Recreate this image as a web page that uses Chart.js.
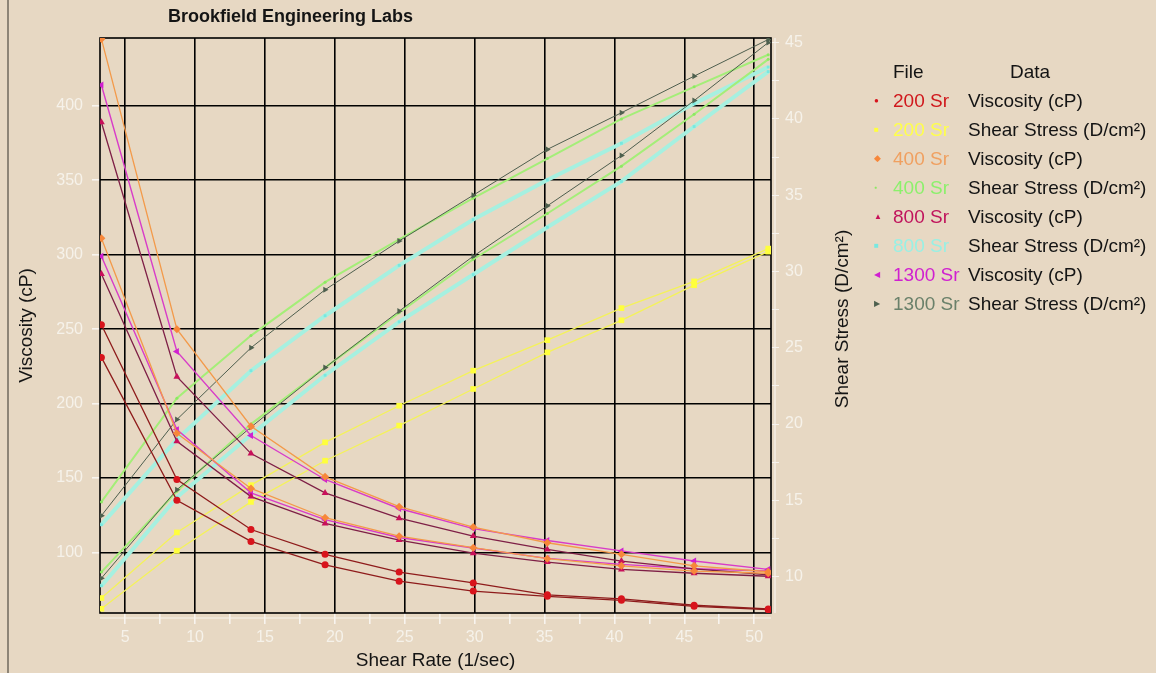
<!DOCTYPE html>
<html>
<head>
<meta charset="utf-8">
<title>Brookfield Engineering Labs</title>
<script src="https://cdn.jsdelivr.net/npm/chart.js@4.4.1/dist/chart.umd.min.js"></script>
<style>
  html, body { margin: 0; padding: 0; background: #e7d8c3; }
  #wrap { position: relative; width: 1156px; height: 673px; overflow: hidden; background: #e7d8c3; }
  #edge { position: absolute; left: 7px; top: 0; width: 2px; height: 673px; background: #8d8476; }
  #chart { position: absolute; left: 0; top: 0; }
  #legend { position: absolute; left: 0; top: 0; font-family: "Liberation Sans", Arial, sans-serif; font-size: 19px; color: #141414; }
  #legend span { position: absolute; white-space: nowrap; line-height: 29px; }
</style>
</head>
<body>
<div id="wrap">
  <div id="edge"></div>
  <canvas id="chart" width="1156" height="673"></canvas>
  <div id="legend"></div>
</div>
<script>
// shear rate (1/sec), same for every run
var shearRate = [3.3, 8.7, 14.0, 19.3, 24.6, 29.9, 35.2, 40.5, 45.7, 51.0];

// viscosity (cP), two passes per file
var visc200a = [253, 149, 115.4, 98.7, 86.8, 79.5, 71.5, 68.8, 64.5, 62];
var visc200b = [231, 135, 107.4, 91.7, 80.7, 74, 70.5, 67.8, 63.8, 61.5];
var visc400a = [445, 250, 184.8, 150.8, 130.7, 117, 106.5, 98.7, 91, 87];
var visc400b = [311, 180, 143, 123.3, 110.9, 103.2, 95.8, 91, 87.5, 86];
var visc800a = [389, 218, 166.4, 140, 123, 111, 102, 94.2, 89, 85];
var visc800b = [287, 174.7, 137.5, 119.5, 108.3, 99.5, 93.5, 88.6, 86, 84];
var visc1300a = [414, 235, 178.5, 149, 129.5, 116, 108, 101, 94.2, 88.6];
var visc1300b = [299, 182.5, 140, 122, 110, 103, 96, 92, 89, 87.5];

// shear stress (D/cm2), two passes per file
var stress200a = [8.6, 12.9, 16.0, 18.8, 21.2, 23.5, 25.5, 27.6, 29.35, 31.5];
var stress200b = [7.9, 11.7, 14.9, 17.6, 19.9, 22.3, 24.7, 26.8, 29.1, 31.3];
var stress400a = [14.9, 21.7, 25.8, 29.3, 32.1, 34.8, 37.4, 40.0, 42.1, 44.2];
var stress400b = [10.3, 15.6, 20.0, 23.7, 27.3, 30.8, 33.8, 36.9, 40.3, 43.9];
var stress800a = [13.4, 19.0, 23.5, 27.1, 30.4, 33.4, 36.0, 38.4, 41.0, 43.4];
var stress800b = [9.4, 15.2, 19.3, 23.2, 26.7, 29.8, 32.9, 35.9, 39.5, 43.1];
var stress1300a = [14.0, 20.3, 25.0, 28.8, 32.0, 35.0, 38.0, 40.4, 42.8, 45.2];
var stress1300b = [9.9, 15.7, 19.8, 23.7, 27.4, 31.0, 34.3, 37.6, 41.2, 45.0];

// legend entries
var fileNames = ['200 Sr', '200 Sr', '400 Sr', '400 Sr', '800 Sr', '800 Sr', '1300 Sr', '1300 Sr'];
var dataNames = ['Viscosity (cP)', 'Shear Stress (D/cm\u00b2)', 'Viscosity (cP)', 'Shear Stress (D/cm\u00b2)',
                 'Viscosity (cP)', 'Shear Stress (D/cm\u00b2)', 'Viscosity (cP)', 'Shear Stress (D/cm\u00b2)'];
var passes = [[visc200a, visc200b], [stress200a, stress200b], [visc400a, visc400b], [stress400a, stress400b],
              [visc800a, visc800b], [stress800a, stress800b], [visc1300a, visc1300b], [stress1300a, stress1300b]];

// tick labels
var xTickValues = [5, 7.5, 10, 12.5, 15, 17.5, 20, 22.5, 25, 27.5, 30, 32.5, 35, 37.5, 40, 42.5, 45, 47.5, 50];
var viscTickValues = [100, 150, 200, 250, 300, 350, 400];
var stressTickValues = [10, 12.5, 15, 17.5, 20, 22.5, 25, 27.5, 30, 32.5, 35, 37.5, 40, 42.5, 45];

var chartTitle = 'Brookfield Engineering Labs';
var xTitle = 'Shear Rate (1/sec)';
var leftTitle = 'Viscosity (cP)';
var rightTitle = 'Shear Stress (D/cm\u00b2)';

// look of each legend entry
var looks = [
    { text: '#d0181c', line: '#8e1b1b', point: '#d8141c', style: 'circle', rot: 0, r: 3.5, w: 1.3, glyph: '\u25cf', gsize: 8, order: 1 },
    { text: '#ffff4a', line: '#f4f25a', point: '#ffff3c', style: 'rect', rot: 0, r: 4, w: 1.3, glyph: '\u25a0', gsize: 8, order: 3 },
    { text: '#f0a060', line: '#f39a4a', point: '#f7873a', style: 'rectRot', rot: 0, r: 4, w: 1.3, glyph: '\u25c6', gsize: 9, order: 1 },
    { text: '#8cf06c', line: '#a4ee78', point: '#8ce862', style: 'circle', rot: 0, r: 1.5, w: 2, glyph: '\u25cf', gsize: 5, order: 5 },
    { text: '#c0145c', line: '#7e1f46', point: '#c8105a', style: 'triangle', rot: 0, r: 4, w: 1.3, glyph: '\u25b2', gsize: 8, order: 1 },
    { text: '#98f0e4', line: '#a6f0e0', point: '#78e8e0', style: 'rect', rot: 0, r: 2, w: 4, glyph: '\u25a0', gsize: 8, order: 6 },
    { text: '#d020d0', line: '#d83cc8', point: '#d020d0', style: 'triangle', rot: -90, r: 4, w: 1.4, glyph: '\u25c0', gsize: 8, order: 1 },
    { text: '#6a806a', line: '#4e5e4e', point: '#4e604e', style: 'triangle', rot: 90, r: 3.5, w: 1, glyph: '\u25b6', gsize: 8, order: 4 }
];

var datasets = [];
passes.forEach(function (pair, i) {
    var look = looks[i];
    var isStress = dataNames[i].indexOf('Shear') === 0;
    pair.forEach(function (values) {
        datasets.push({
            label: fileNames[i] + ' ' + dataNames[i],
            data: shearRate.map(function (x, j) { return { x: x, y: values[j] }; }),
            yAxisID: isStress ? 'y2' : 'y',
            borderColor: look.line,
            borderWidth: look.w,
            backgroundColor: look.point,
            pointBackgroundColor: look.point,
            pointBorderColor: look.point,
            pointBorderWidth: 0,
            pointRadius: look.r,
            pointStyle: look.style,
            pointRotation: look.rot,
            tension: 0,
            fill: false,
            order: look.order
        });
    });
});

function setTicks(list) {
    return function (scale) {
        scale.ticks = list.map(function (v) { return { value: v }; });
    };
}

function fiveOnly(value) {
    return value % 5 === 0 ? value : '';
}

var tickFont = { family: '"Liberation Sans", Arial, sans-serif', size: 16 };
var titleFont = { family: '"Liberation Sans", Arial, sans-serif', size: 19 };

var framePlugin = {
    id: 'frame',
    beforeDatasetsDraw: function (chart) {
        var a = chart.chartArea;
        var ctx = chart.ctx;
        ctx.save();
        ctx.strokeStyle = '#000';
        ctx.lineWidth = 1.6;
        ctx.strokeRect(a.left, a.top, a.right - a.left, a.bottom - a.top);
        ctx.strokeStyle = '#f8f4ee';
        ctx.lineWidth = 1.2;
        ctx.beginPath();
        ctx.moveTo(a.left, a.bottom + 5);
        ctx.lineTo(a.right, a.bottom + 5);
        ctx.moveTo(a.right + 4, a.top);
        ctx.lineTo(a.right + 4, a.bottom);
        ctx.stroke();
        ctx.restore();
    },
    afterDraw: function (chart) {
        var ctx = chart.ctx;
        ctx.save();
        ctx.fillStyle = '#141414';
        ctx.textBaseline = 'middle';
        ctx.textAlign = 'left';
        ctx.font = 'bold 18px "Liberation Sans", Arial, sans-serif';
        ctx.fillText(chartTitle, 168, 17);
        ctx.font = '19px "Liberation Sans", Arial, sans-serif';
        ctx.translate(843, 319);
        ctx.rotate(-Math.PI / 2);
        ctx.textAlign = 'center';
        ctx.fillText(rightTitle, 0, 0);
        ctx.restore();
    }
};

new Chart(document.getElementById('chart'), {
    type: 'line',
    data: { datasets: datasets },
    options: {
        responsive: false,
        animation: false,
        devicePixelRatio: 1,
        layout: { padding: { left: 8, right: 296, top: 38, bottom: 0 } },
        plugins: {
            legend: { display: false },
            tooltip: { enabled: false }
        },
        scales: {
            x: {
                type: 'linear',
                min: 3.2,
                max: 51.2,
                afterBuildTicks: setTicks(xTickValues),
                afterFit: function (scale) { scale.height = 60; },
                border: { display: false },
                grid: {
                    color: function (c) { return c.tick && c.tick.value % 5 === 0 ? '#000' : 'rgba(0,0,0,0)'; },
                    lineWidth: 1.6,
                    tickColor: '#f8f4ee',
                    tickLength: 11
                },
                ticks: { callback: fiveOnly, color: '#f6f2ea', font: tickFont, padding: 4, autoSkip: false, maxRotation: 0 },
                title: { display: true, text: xTitle, color: '#141414', font: titleFont, padding: { top: 0, bottom: 1 } }
            },
            y: {
                type: 'linear',
                position: 'left',
                min: 59.3,
                max: 445.6,
                afterBuildTicks: setTicks(viscTickValues),
                afterFit: function (scale) { scale.width = 92; },
                border: { display: false },
                grid: { color: '#000', lineWidth: 1.6, tickColor: '#f8f4ee', tickLength: 8 },
                ticks: { color: '#f6f2ea', font: tickFont, padding: 9, autoSkip: false },
                title: { display: true, text: leftTitle, color: '#141414', font: titleFont, padding: { top: 7, bottom: 0 } }
            },
            y2: {
                type: 'linear',
                position: 'right',
                min: 7.62,
                max: 45.3,
                afterBuildTicks: setTicks(stressTickValues),
                afterFit: function (scale) { scale.width = 89; },
                border: { display: false },
                grid: { drawOnChartArea: false, color: '#f8f4ee', tickColor: '#f8f4ee', tickLength: 8 },
                ticks: { callback: fiveOnly, color: '#f6f2ea', font: tickFont, padding: 6, autoSkip: false }
            }
        }
    },
    plugins: [framePlugin]
});

// legend as a small table to the right of the plot
var legend = document.getElementById('legend');
function addText(text, left, top, color, size) {
    var s = document.createElement('span');
    s.textContent = text;
    s.style.left = left + 'px';
    s.style.top = top + 'px';
    if (color) s.style.color = color;
    if (size) s.style.fontSize = size + 'px';
    legend.appendChild(s);
    return s;
}
addText('File', 893, 57);
addText('Data', 1010, 57);
fileNames.forEach(function (name, i) {
    var top = 86 + i * 29;
    addText(looks[i].glyph, 874, top, looks[i].point, looks[i].gsize);
    addText(name, 893, top, looks[i].text);
    addText(dataNames[i], 968, top);
});
</script>
</body>
</html>
